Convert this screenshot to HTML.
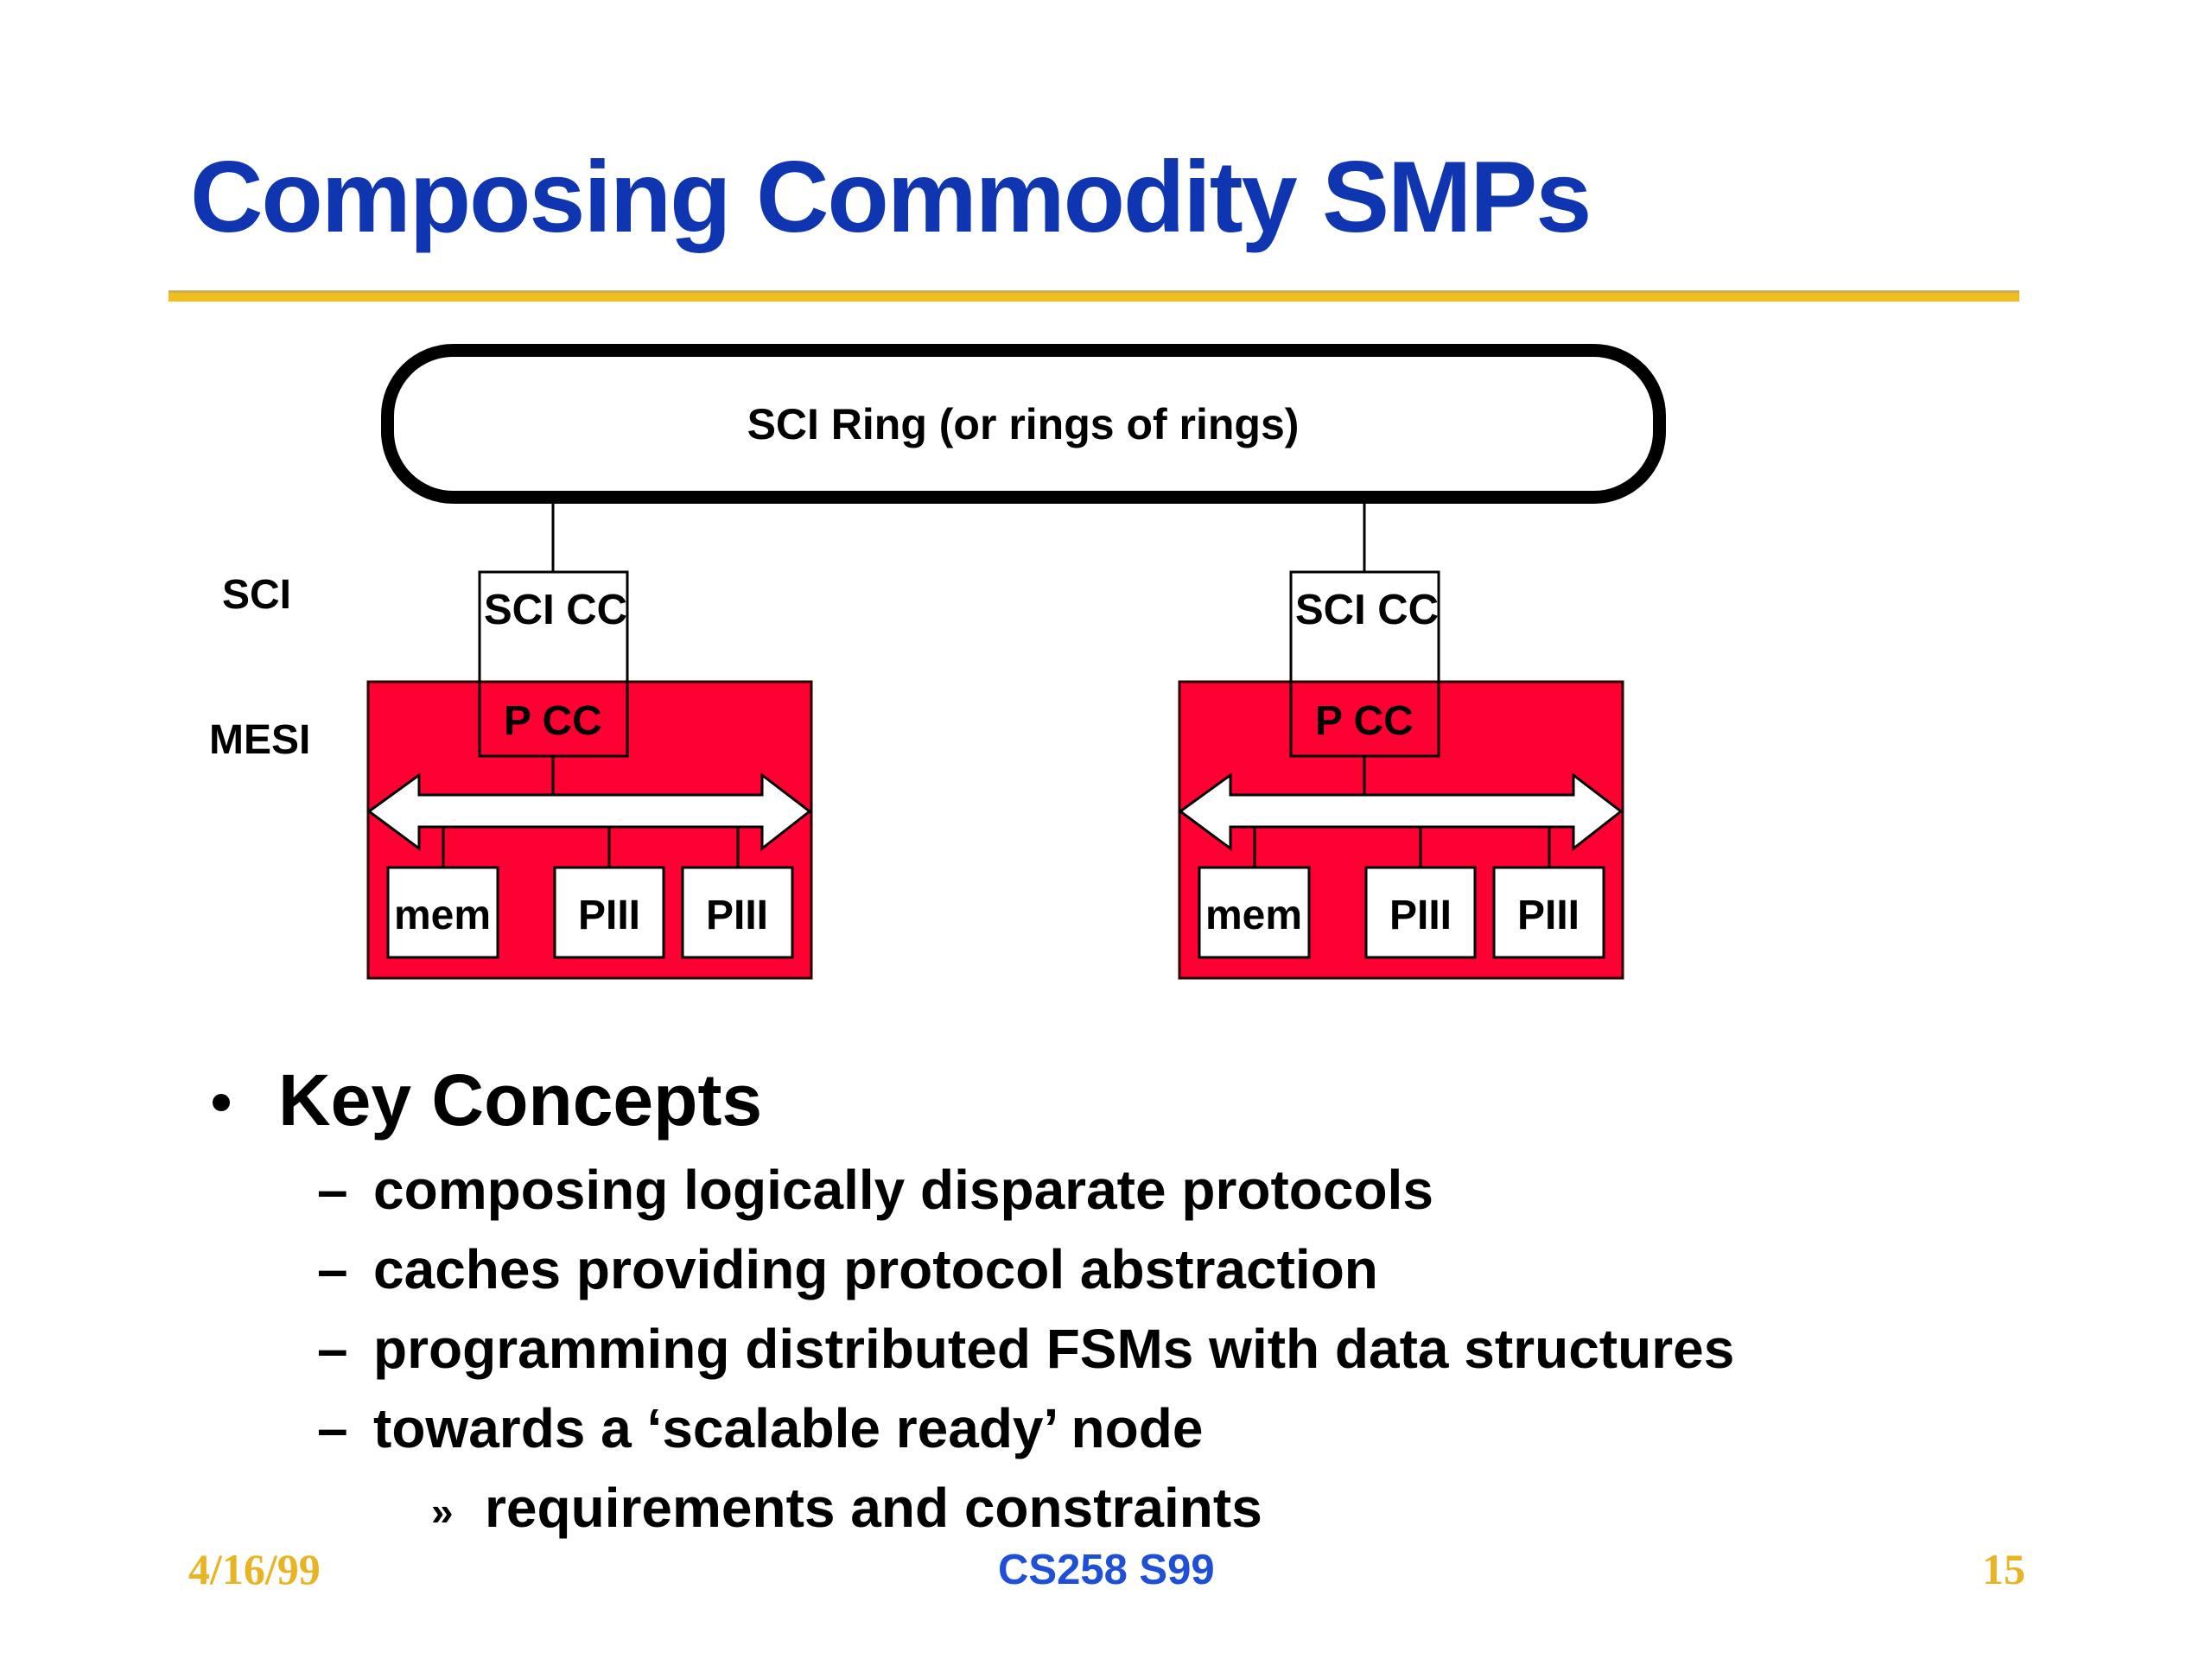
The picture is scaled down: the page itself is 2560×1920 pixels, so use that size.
<!DOCTYPE html>
<html>
<head>
<meta charset="utf-8">
<style>
  html, body { margin: 0; padding: 0; background: #ffffff; }
  body { width: 2560px; height: 1920px; overflow: hidden; }
  svg { display: block; }
  .sans { font-family: "Liberation Sans", Arial, Helvetica, sans-serif; font-weight: bold; }
  .serif { font-family: "Liberation Serif", "Times New Roman", serif; font-weight: bold; }
</style>
</head>
<body>
<svg width="2560" height="1920" viewBox="0 0 2560 1920" xmlns="http://www.w3.org/2000/svg">
  <rect x="0" y="0" width="2560" height="1920" fill="#ffffff"/>

  <!-- Title -->
  <text class="sans" x="220" y="268" font-size="117" letter-spacing="-2.1" fill="#1035B0">Composing Commodity SMPs</text>

  <!-- Gold rule -->
  <rect x="195" y="336" width="2142" height="13" fill="#F0BE1E"/>
  <rect x="195" y="336" width="2142" height="3" fill="#C9AE5A"/>

  <!-- SCI Ring -->
  <rect x="448.5" y="405.5" width="1472" height="170" rx="76" ry="76" fill="#ffffff" stroke="#000000" stroke-width="15"/>
  <text class="sans" x="1184" y="508" font-size="50" text-anchor="middle" fill="#000000">SCI Ring (or rings of rings)</text>

  <!-- Side labels -->
  <text class="sans" x="257" y="704" font-size="48" fill="#000000">SCI</text>
  <text class="sans" x="242" y="872" font-size="48" fill="#000000">MESI</text>

  <!-- Left node -->
  <g id="nodeL">
    <line x1="640" y1="583" x2="640" y2="662" stroke="#000" stroke-width="3"/>
    <rect x="426" y="789" width="513" height="343" fill="#FF0033" stroke="#2a0000" stroke-width="3"/>
    <rect x="555" y="662" width="171" height="213" fill="none" stroke="#000" stroke-width="3"/>
    <text class="sans" x="560" y="722" font-size="49" fill="#000">SCI CC</text>
    <text class="sans" x="583" y="850" font-size="48" fill="#000">P CC</text>
    <line x1="640" y1="875" x2="640" y2="920" stroke="#000" stroke-width="3"/>
    <polygon points="427,939 485,897 485,920 882,920 882,897 937,939 882,982 882,957 485,957 485,982" fill="#ffffff" stroke="#000" stroke-width="3" stroke-linejoin="miter"/>
    <line x1="513" y1="957" x2="513" y2="1004" stroke="#000" stroke-width="3"/>
    <line x1="705" y1="957" x2="705" y2="1004" stroke="#000" stroke-width="3"/>
    <line x1="854" y1="957" x2="854" y2="1004" stroke="#000" stroke-width="3"/>
    <rect x="449" y="1004" width="127" height="104" fill="#ffffff" stroke="#000" stroke-width="3"/>
    <rect x="642" y="1004" width="126" height="104" fill="#ffffff" stroke="#000" stroke-width="3"/>
    <rect x="790" y="1004" width="127" height="104" fill="#ffffff" stroke="#000" stroke-width="3"/>
    <text class="sans" x="512" y="1075" font-size="48" text-anchor="middle" fill="#000">mem</text>
    <text class="sans" x="705" y="1075" font-size="48" text-anchor="middle" fill="#000">PIII</text>
    <text class="sans" x="853" y="1075" font-size="48" text-anchor="middle" fill="#000">PIII</text>
  </g>

  <!-- Right node (offset 939) -->
  <g transform="translate(939,0)">
    <line x1="640" y1="583" x2="640" y2="662" stroke="#000" stroke-width="3"/>
    <rect x="426" y="789" width="513" height="343" fill="#FF0033" stroke="#2a0000" stroke-width="3"/>
    <rect x="555" y="662" width="171" height="213" fill="none" stroke="#000" stroke-width="3"/>
    <text class="sans" x="560" y="722" font-size="49" fill="#000">SCI CC</text>
    <text class="sans" x="583" y="850" font-size="48" fill="#000">P CC</text>
    <line x1="640" y1="875" x2="640" y2="920" stroke="#000" stroke-width="3"/>
    <polygon points="427,939 485,897 485,920 882,920 882,897 937,939 882,982 882,957 485,957 485,982" fill="#ffffff" stroke="#000" stroke-width="3" stroke-linejoin="miter"/>
    <line x1="513" y1="957" x2="513" y2="1004" stroke="#000" stroke-width="3"/>
    <line x1="705" y1="957" x2="705" y2="1004" stroke="#000" stroke-width="3"/>
    <line x1="854" y1="957" x2="854" y2="1004" stroke="#000" stroke-width="3"/>
    <rect x="449" y="1004" width="127" height="104" fill="#ffffff" stroke="#000" stroke-width="3"/>
    <rect x="642" y="1004" width="126" height="104" fill="#ffffff" stroke="#000" stroke-width="3"/>
    <rect x="790" y="1004" width="127" height="104" fill="#ffffff" stroke="#000" stroke-width="3"/>
    <text class="sans" x="512" y="1075" font-size="48" text-anchor="middle" fill="#000">mem</text>
    <text class="sans" x="705" y="1075" font-size="48" text-anchor="middle" fill="#000">PIII</text>
    <text class="sans" x="853" y="1075" font-size="48" text-anchor="middle" fill="#000">PIII</text>
  </g>

  <!-- Bullets -->
  <circle cx="256" cy="1276" r="10" fill="#000"/>
  <text class="sans" x="322" y="1302" font-size="84" fill="#000">Key Concepts</text>

  <text class="sans" x="367" y="1399" font-size="64" fill="#000">–</text>
  <text class="sans" x="432" y="1399" font-size="64" fill="#000">composing logically disparate protocols</text>

  <text class="sans" x="367" y="1491" font-size="64" fill="#000">–</text>
  <text class="sans" x="432" y="1491" font-size="64" fill="#000">caches providing protocol abstraction</text>

  <text class="sans" x="367" y="1583" font-size="64" fill="#000">–</text>
  <text class="sans" x="432" y="1583" font-size="64" fill="#000">programming distributed FSMs with data structures</text>

  <text class="sans" x="367" y="1675" font-size="64" fill="#000">–</text>
  <text class="sans" x="432" y="1675" font-size="64" fill="#000">towards a ‘scalable ready’ node</text>

  <text class="sans" x="499" y="1765" font-size="46" fill="#000">»</text>
  <text class="sans" x="561" y="1767" font-size="64" fill="#000">requirements and constraints</text>

  <!-- Footer -->
  <text class="serif" x="218" y="1833" font-size="50" fill="#E8B424">4/16/99</text>
  <text class="sans" x="1155" y="1833" font-size="49" fill="#1E4FD6">CS258 S99</text>
  <text class="serif" x="2344" y="1833" font-size="50" text-anchor="end" fill="#E8B424">15</text>
</svg>
</body>
</html>
